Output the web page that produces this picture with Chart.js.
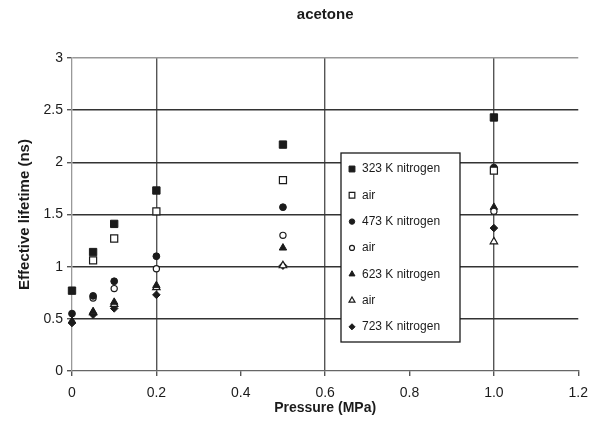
<!DOCTYPE html>
<html>
<head>
<meta charset="utf-8">
<script src="https://cdn.jsdelivr.net/npm/chart.js@4/dist/chart.umd.min.js"></script>
<style>
  html, body { margin: 0; padding: 0; background: #fff; }
  #wrap { width: 597px; height: 424px; position: relative; }
</style>
</head>
<body>
<div id="wrap"><canvas id="chart-area"></canvas></div>
<script>

// pressure (MPa)
var pressureN2 = [0, 0.05, 0.1, 0.2, 0.5, 1.0];
var pressureAir = [0.05, 0.1, 0.2, 0.5, 1.0];

// effective lifetime (ns)
var n2_323 = [0.77, 1.14, 1.41, 1.73, 2.17, 2.43];
var air_323 = [1.06, 1.27, 1.53, 1.83, 1.92];
var n2_473 = [0.55, 0.72, 0.86, 1.10, 1.57, 1.95];
var air_473 = [0.70, 0.79, 0.98, 1.30, 1.53];
var n2_623 = [0.48, 0.57, 0.66, 0.82, 1.18, 1.57];
var air_623 = [0.56, 0.64, 0.80, 1.01, 1.24];
var n2_723 = [0.46, 0.54, 0.60, 0.73, 1.01, 1.37];

var seriesNames = ['323 K nitrogen', 'air', '473 K nitrogen', 'air', '623 K nitrogen', 'air', '723 K nitrogen'];

var xTickLabels = ['0', '0.2', '0.4', '0.6', '0.8', '1.0', '1.2'];
var yTickLabels = ['0', '0.5', '1', '1.5', '2', '2.5', '3'];

var INK = '#1b1b1b';
var FONT = '"Liberation Sans", Arial, sans-serif';

function pts(xs, ys) {
    return xs.map(function (x, i) { return { x: x, y: ys[i] }; });
}

function series(name, xs, ys, style, radius, open) {
    return {
        label: name,
        data: pts(xs, ys),
        pointStyle: style,
        pointRadius: radius,
        pointHoverRadius: radius,
        pointBackgroundColor: open ? '#fff' : INK,
        pointBorderColor: INK,
        pointBorderWidth: open ? 1.2 : 1,
        showLine: false,
        clip: false
    };
}

var datasets = [
    series(seriesNames[0], pressureN2, n2_323, 'rect', 5.2, false),
    series(seriesNames[1], pressureAir, air_323, 'rect', 5.0, true),
    series(seriesNames[2], pressureN2, n2_473, 'circle', 3.4, false),
    series(seriesNames[3], pressureAir, air_473, 'circle', 3.1, true),
    series(seriesNames[4], pressureN2, n2_623, 'triangle', 4.3, false),
    series(seriesNames[5], pressureAir, air_623, 'triangle', 4.3, true),
    series(seriesNames[6], pressureN2, n2_723, 'rectRot', 3.8, false)
];

// title centred over the plot area
var plotTitle = {
    id: 'plotTitle',
    afterDraw: function (chart) {
        var ctx = chart.ctx, a = chart.chartArea;
        ctx.save();
        ctx.fillStyle = INK;
        ctx.font = 'bold 15px ' + FONT;
        ctx.textAlign = 'center';
        ctx.textBaseline = 'middle';
        ctx.fillText('acetone', (a.left + a.right) / 2, 15);
        ctx.restore();
    }
};

// boxed legend inside the plot
var boxLegend = {
    id: 'boxLegend',
    beforeDatasetsDraw: function (chart) {
        var ctx = chart.ctx;
        var bx = 341, by = 153, bw = 119, bh = 189, step = 26.3;
        ctx.save();
        ctx.fillStyle = '#fff';
        ctx.fillRect(bx, by, bw, bh);
        ctx.strokeStyle = INK;
        ctx.lineWidth = 1.3;
        ctx.strokeRect(bx, by, bw, bh);
        ctx.font = '12px ' + FONT;
        ctx.textBaseline = 'middle';
        ctx.textAlign = 'left';
        chart.data.datasets.forEach(function (ds, i) {
            var y = by + 16 + i * step;
            ctx.fillStyle = ds.pointBackgroundColor;
            ctx.strokeStyle = ds.pointBorderColor;
            ctx.lineWidth = ds.pointBorderWidth;
            Chart.helpers.drawPoint(ctx, {
                pointStyle: ds.pointStyle,
                radius: ds.pointRadius * 0.8,
                rotation: 0,
                borderWidth: ds.pointBorderWidth
            }, bx + 11, y);
            ctx.fillStyle = INK;
            ctx.fillText(ds.label, bx + 21, y);
        });
        ctx.restore();
    }
};

var config = {
    type: 'scatter',
    data: { datasets: datasets },
    options: {
        responsive: false,
        animation: false,
        layout: { padding: { top: 58, right: 15, left: 0, bottom: 0 } },
        plugins: {
            legend: { display: false },
            tooltip: { enabled: false },
            title: { display: false }
        },
        scales: {
            x: {
                type: 'linear',
                min: 0,
                max: 1.2,
                afterFit: function (scale) { scale.height = 53; },
                border: { color: '#666', width: 1.3 },
                grid: {
                    color: function (c) {
                        return (c.index === 1 || c.index === 3 || c.index === 5) ? '#555' : 'rgba(0,0,0,0)';
                    },
                    lineWidth: 1.4,
                    tickColor: '#555',
                    tickLength: 5
                },
                ticks: {
                    stepSize: 0.2,
                    padding: 9,
                    color: INK,
                    font: { family: FONT, size: 14 },
                    maxRotation: 0,
                    callback: function (v, i) { return xTickLabels[i]; }
                },
                title: {
                    display: true,
                    text: 'Pressure (MPa)',
                    color: INK,
                    font: { family: FONT, size: 14, weight: 'bold' },
                    padding: { top: 0, bottom: 7 }
                }
            },
            y: {
                min: 0,
                max: 3,
                afterFit: function (scale) { scale.width = 72; },
                border: { color: '#999', width: 1.3 },
                grid: {
                    color: function (c) {
                        if (c.index === 0) return 'rgba(0,0,0,0)';
                        if (c.index === 6) return '#999';
                        return '#333';
                    },
                    lineWidth: 1.4,
                    tickColor: '#555',
                    tickLength: 5
                },
                ticks: {
                    stepSize: 0.5,
                    padding: 4,
                    color: INK,
                    font: { family: FONT, size: 14 },
                    callback: function (v, i) { return yTickLabels[i]; }
                },
                title: {
                    display: true,
                    text: 'Effective lifetime (ns)',
                    color: INK,
                    font: { family: FONT, size: 15, weight: 'bold' },
                    padding: { top: 16, bottom: 0 }
                }
            }
        }
    },
    plugins: [plotTitle, boxLegend]
};

window.addEventListener('load', function () {
    var canvas = document.getElementById('chart-area');
    canvas.width = 597;
    canvas.height = 424;
    new Chart(canvas.getContext('2d'), config);
});
</script>
</body>
</html>
